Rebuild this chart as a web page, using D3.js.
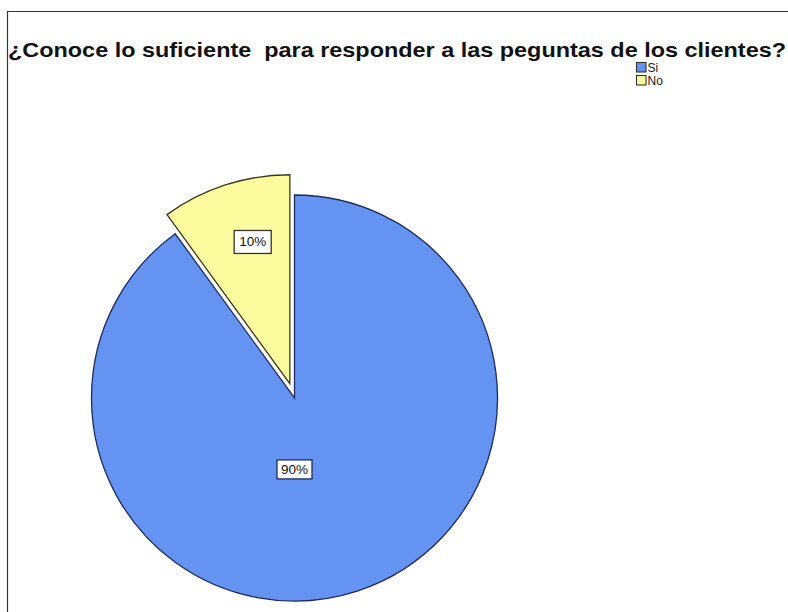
<!DOCTYPE html>
<html>
<head>
<meta charset="utf-8">
<script src="https://cdn.jsdelivr.net/npm/d3@7"></script>
<style>
  html, body { margin: 0; padding: 0; background: #fff; }
  svg { display: block; }
</style>
</head>
<body>
<svg id="chart" width="788" height="612"></svg>
<script>
// Survey answers and their shares (percent)
const categories = ["Si", "No"];
const values = [90, 10];
const labels = ["90%", "10%"];
const colors = ["#6593F2", "#FCFC9E"];
const titleText = "¿Conoce lo suficiente\u00A0 para responder a las peguntas de los clientes?";

const svg = d3.select("#chart");
const W = 788, H = 612;

// Outer frame (top and left edges visible)
svg.append("path")
  .attr("d", `M7.5,${H} L7.5,11.5 L${W},11.5`)
  .attr("fill", "none")
  .attr("stroke", "#333")
  .attr("stroke-width", 1.2);

// Title, stretched across the frame width
const title = svg.append("text")
  .attr("x", 8)
  .attr("y", 57)
  .attr("font-family", "Liberation Sans, Arial, sans-serif")
  .attr("font-weight", "bold")
  .attr("font-size", 21)
  .attr("fill", "#111")
  .text(titleText);
const tw = title.node().getComputedTextLength();
const targetW = 778;
if (Math.abs(tw - targetW) > 2) {
  title.attr("textLength", targetW).attr("lengthAdjust", "spacingAndGlyphs");
}

// Pie geometry
const cx = 294.5, cy = 398, R = 203;
const explode = 15;
const explodedR = R + 6;

const pie = d3.pie().sort(null).value(d => d.value)
  .startAngle(0).endAngle(2 * Math.PI);
const data = categories.map((c, i) => ({ cat: c, value: values[i], label: labels[i], color: colors[i] }));
const arcs = pie(data);

const arc = d3.arc().innerRadius(0).outerRadius(R);
const arcOut = d3.arc().innerRadius(0).outerRadius(explodedR);

const g = svg.append("g").attr("transform", `translate(${cx},${cy})`);

arcs.forEach((a) => {
  const mid = (a.startAngle + a.endAngle) / 2;
  const isExploded = a.data.cat === "No";
  const dx = isExploded ? Math.sin(mid) * explode : 0;
  const dy = isExploded ? -Math.cos(mid) * explode : 0;
  const sg = g.append("g").attr("transform", `translate(${dx},${dy})`);
  sg.append("path")
    .attr("d", (isExploded ? arcOut : arc)(a))
    .attr("fill", a.data.color)
    .attr("stroke", isExploded ? "#3a3a22" : "#1d2c5c")
    .attr("stroke-width", 1.3)
    .attr("stroke-linejoin", "miter");
});

// Data labels in white boxes
arcs.forEach((a) => {
  const mid = (a.startAngle + a.endAngle) / 2;
  let lx, ly;
  if (a.data.cat === "No") {
    const r = explodedR * 0.715;
    lx = Math.sin(mid) * (explode + r) + 9;
    ly = -Math.cos(mid) * (explode + r);
  } else {
    lx = 0;
    ly = R * 0.35;
  }
  const lg = g.append("g").attr("transform", `translate(${lx},${ly})`);
  const t = lg.append("text")
    .attr("text-anchor", "middle")
    .attr("dy", "0.36em")
    .attr("font-family", "Liberation Sans, Arial, sans-serif")
    .attr("font-size", 13.5)
    .attr("fill", "#111")
    .text(a.data.label);
  const bb = t.node().getBBox();
  const padX = a.data.cat === "No" ? 5 : 4;
  const padY = a.data.cat === "No" ? 4 : 2;
  lg.insert("rect", "text")
    .attr("x", bb.x - padX)
    .attr("y", bb.y - padY)
    .attr("width", bb.width + 2 * padX)
    .attr("height", bb.height + 2 * padY)
    .attr("fill", "#fff")
    .attr("stroke", a.data.cat === "No" ? "#333" : "#1d2c5c")
    .attr("stroke-width", 1.3);
});

// Legend
const legend = svg.append("g").attr("transform", "translate(636,62)");
data.forEach((d, i) => {
  const row = legend.append("g").attr("transform", `translate(0,${i * 13})`);
  row.append("rect")
    .attr("x", 0.5).attr("y", 0.5)
    .attr("width", 9.5).attr("height", 9.5)
    .attr("fill", d.color)
    .attr("stroke", "#333")
    .attr("stroke-width", 1.1);
  row.append("text")
    .attr("x", 11.5)
    .attr("y", 10)
    .attr("font-family", "Liberation Sans Narrow, Arial Narrow, Liberation Sans, sans-serif")
    .attr("font-size", 12)
    .attr("fill", "#222")
    .text(d.cat);
});
</script>
</body>
</html>
